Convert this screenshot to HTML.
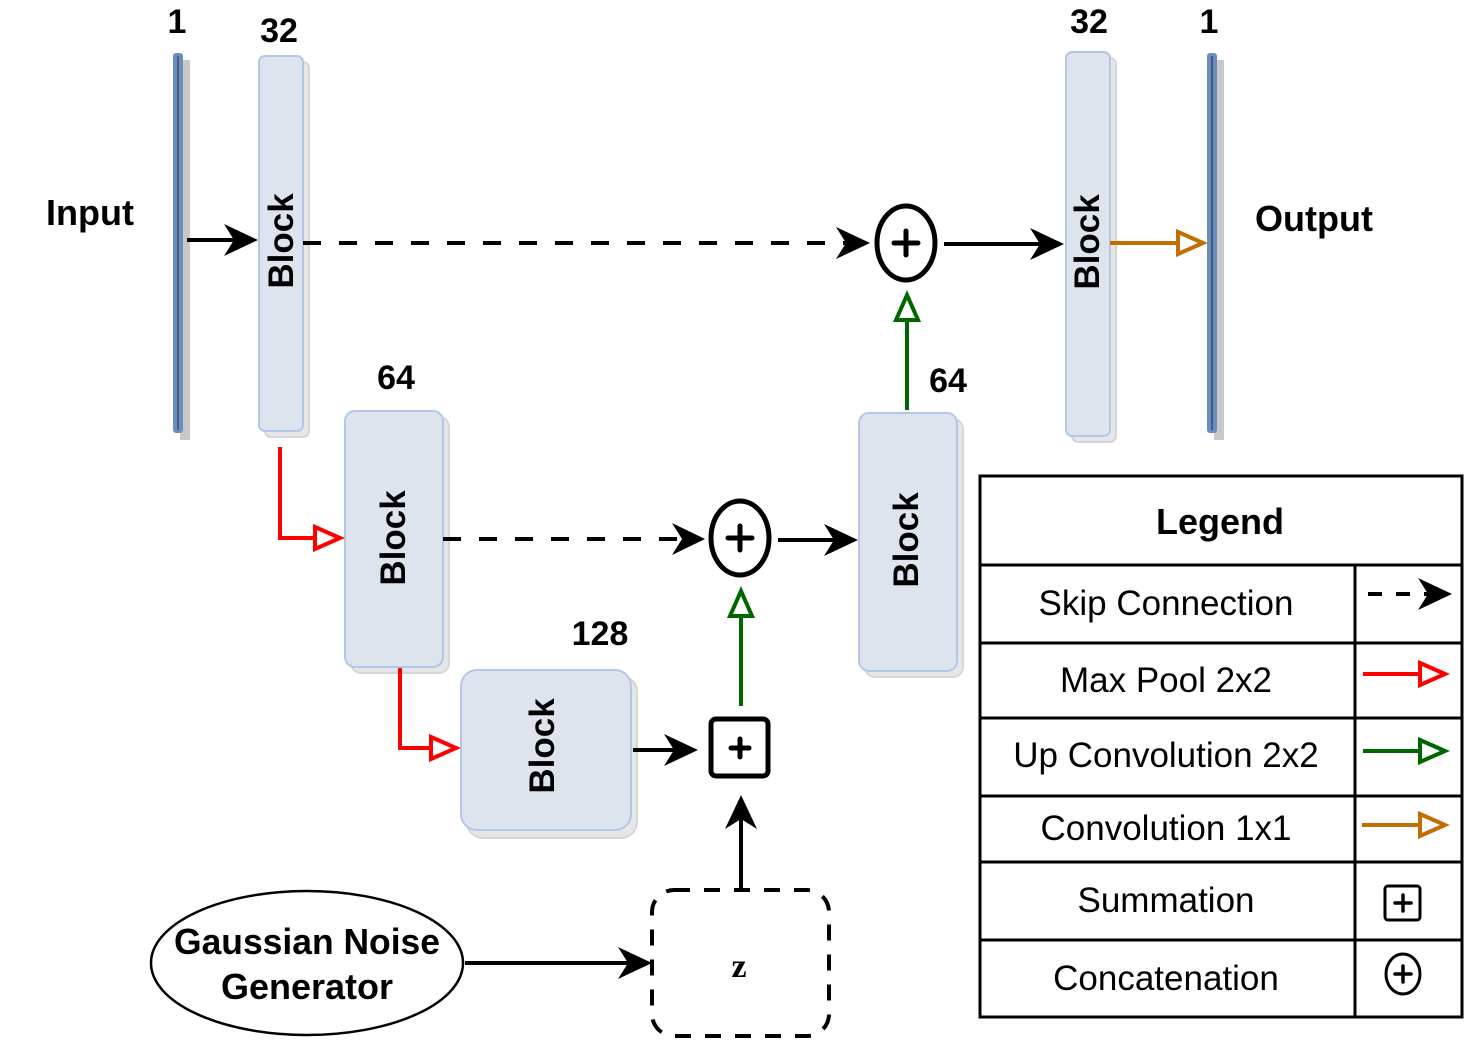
<!DOCTYPE html>
<html><head><meta charset="utf-8"><style>
html,body{margin:0;padding:0;background:#fff;}
svg{display:block;}
text{font-family:"Liberation Sans",sans-serif;}
</style></head><body>
<svg width="1482" height="1044" viewBox="0 0 1482 1044" xmlns="http://www.w3.org/2000/svg">
<!-- bars -->
<rect x="180" y="60" width="10" height="380" fill="#c8c8c8"/>
<rect x="173" y="53" width="10" height="380" rx="3" fill="#6c8ebf"/>
<line x1="178" y1="56" x2="178" y2="430" stroke="#1a2a40" stroke-width="1"/>
<rect x="1214" y="60" width="10" height="380" fill="#c8c8c8"/>
<rect x="1207" y="53" width="10" height="380" rx="3" fill="#6c8ebf"/>
<line x1="1212" y1="56" x2="1212" y2="430" stroke="#1a2a40" stroke-width="1"/>

<!-- blocks -->
<g fill="#dde4ee" stroke="#b3c8e6" stroke-width="2">
<rect x="265" y="62" width="44" height="375" rx="6" fill="#e6e6e6" stroke="#d6d6d6"/>
<rect x="259" y="56" width="44" height="375" rx="6"/>
<rect x="1072" y="58" width="44" height="384" rx="6" fill="#e6e6e6" stroke="#d6d6d6"/>
<rect x="1066" y="52" width="44" height="384" rx="6"/>
<rect x="351" y="417" width="98" height="256" rx="10" fill="#e6e6e6" stroke="#d6d6d6"/>
<rect x="345" y="411" width="98" height="256" rx="10"/>
<rect x="865" y="419" width="98" height="258" rx="10" fill="#e6e6e6" stroke="#d6d6d6"/>
<rect x="859" y="413" width="98" height="258" rx="10"/>
<rect x="467" y="676" width="170" height="162" rx="16" fill="#e6e6e6" stroke="#d6d6d6"/>
<rect x="461" y="670" width="170" height="160" rx="16"/>
</g>
<g font-weight="bold" font-size="35" fill="#000" text-anchor="middle">
<text transform="translate(293,241) rotate(-90)">Block</text>
<text transform="translate(1099,242) rotate(-90)">Block</text>
<text transform="translate(405,538) rotate(-90)">Block</text>
<text transform="translate(918,540) rotate(-90)">Block</text>
<text transform="translate(554,746) rotate(-90)">Block</text>
</g>
<g font-weight="bold" font-size="34" fill="#000" text-anchor="middle">
<text x="177" y="33">1</text>
<text x="279" y="42">32</text>
<text x="1089" y="33">32</text>
<text x="1209" y="33">1</text>
<text x="396" y="389">64</text>
<text x="948" y="392">64</text>
<text x="600" y="645">128</text>
<text x="90" y="225" font-size="36">Input</text>
<text x="1314" y="231" font-size="36">Output</text>
</g>

<!-- connectors -->
<g stroke="#000" stroke-width="4" fill="none">
<line x1="187" y1="240" x2="240" y2="240"/>
<line x1="303" y1="243" x2="850" y2="243" stroke-dasharray="18,18"/>
<line x1="944" y1="244" x2="1045" y2="244"/>
<line x1="443" y1="539" x2="688" y2="539" stroke-dasharray="18,18"/>
<line x1="778" y1="540" x2="840" y2="540"/>
<line x1="633" y1="750" x2="680" y2="750"/>
<line x1="741" y1="888" x2="741" y2="813"/>
<line x1="465" y1="963" x2="633" y2="963"/>
</g>
<g fill="#000">
<polygon points="258,240 224,224 234,240 224,256"/>
<polygon points="870,243 836,227 846,243 836,259"/>
<polygon points="1064,244 1030,228 1040,244 1030,260"/>
<polygon points="705,539 672,523 682,539 672,555"/>
<polygon points="858,540 824,524 834,540 824,556"/>
<polygon points="698,750 664,734 674,750 664,766"/>
<polygon points="741,795 725,829 741,819 757,829"/>
<polygon points="652,963 618,947 628,963 618,979"/>
</g>
<!-- red -->
<g stroke="#ff0000" stroke-width="4" fill="none">
<polyline points="280,447 280,538 315,538"/>
<polyline points="400,668 400,748 430,748"/>
<polygon points="340,538 315,527 315,549" fill="#fff"/>
<polygon points="456,748 431,737 431,759" fill="#fff"/>
</g>
<!-- green -->
<g stroke="#006600" stroke-width="4" fill="none">
<line x1="907" y1="410" x2="907" y2="320"/>
<line x1="741" y1="706" x2="741" y2="616"/>
<polygon points="907,295 896,320 918,320" fill="#fff"/>
<polygon points="741,591 730,616 752,616" fill="#fff"/>
</g>
<!-- orange -->
<g stroke="#c07000" stroke-width="4" fill="none">
<line x1="1110" y1="243" x2="1178" y2="243"/>
<polygon points="1203,243 1178,232 1178,254" fill="#fff"/>
</g>
<!-- circle plus -->
<g stroke="#000" stroke-width="5" fill="#fff">
<ellipse cx="906" cy="243" rx="29" ry="37"/>
<ellipse cx="740" cy="538" rx="29" ry="37"/>
<rect x="711" y="719" width="57" height="57" rx="5"/>
</g>
<g stroke="#000" stroke-width="5" stroke-linecap="round">
<line x1="894" y1="243" x2="918" y2="243"/><line x1="906" y1="231" x2="906" y2="255"/>
<line x1="728" y1="538" x2="752" y2="538"/><line x1="740" y1="526" x2="740" y2="550"/>
<line x1="731" y1="748" x2="749" y2="748"/><line x1="740" y1="739" x2="740" y2="757"/>
</g>

<!-- noise generator -->
<ellipse cx="307" cy="963" rx="156" ry="72" fill="#fff" stroke="#000" stroke-width="2.5"/>
<text x="307" y="954" font-size="36" font-weight="bold" text-anchor="middle" textLength="266" lengthAdjust="spacingAndGlyphs">Gaussian Noise</text>
<text x="307" y="999" font-size="36" font-weight="bold" text-anchor="middle">Generator</text>
<rect x="652" y="890" width="177" height="146" rx="22" fill="none" stroke="#000" stroke-width="4" stroke-dasharray="16,14"/>
<text x="739" y="977" font-size="34" font-weight="bold" text-anchor="middle" style="font-family:'Liberation Serif',serif">z</text>

<!-- legend -->
<g stroke="#000" stroke-width="3" fill="none">
<rect x="980" y="476" width="482" height="541"/>
<line x1="980" y1="565" x2="1462" y2="565"/>
<line x1="980" y1="643" x2="1462" y2="643"/>
<line x1="980" y1="718" x2="1462" y2="718"/>
<line x1="980" y1="796" x2="1462" y2="796"/>
<line x1="980" y1="862" x2="1462" y2="862"/>
<line x1="980" y1="940" x2="1462" y2="940"/>
<line x1="1355" y1="565" x2="1355" y2="1017"/>
</g>
<g font-size="35" text-anchor="middle" fill="#000">
<text x="1220" y="534" font-weight="bold" font-size="36">Legend</text>
<text x="1166" y="615">Skip Connection</text>
<text x="1166" y="692">Max Pool 2x2</text>
<text x="1166" y="767">Up Convolution 2x2</text>
<text x="1166" y="840">Convolution 1x1</text>
<text x="1166" y="912">Summation</text>
<text x="1166" y="990">Concatenation</text>
</g>
<g stroke-width="4" fill="none">
<line x1="1368" y1="594" x2="1432" y2="594" stroke="#000" stroke-dasharray="14,14"/>
<line x1="1363" y1="674" x2="1420" y2="674" stroke="#ff0000"/>
<polygon points="1445,674 1420,663 1420,685" stroke="#ff0000" fill="#fff"/>
<line x1="1363" y1="751" x2="1420" y2="751" stroke="#006600"/>
<polygon points="1445,751 1420,740 1420,762" stroke="#006600" fill="#fff"/>
<line x1="1362" y1="825" x2="1420" y2="825" stroke="#c07000"/>
<polygon points="1445,825 1420,814 1420,836" stroke="#c07000" fill="#fff"/>
<rect x="1385" y="886" width="35" height="34" rx="3" stroke="#000" stroke-width="3"/>
<ellipse cx="1403" cy="974" rx="17" ry="20" stroke="#000" stroke-width="3"/>
</g>
<polygon points="1452,594 1418,578 1428,594 1418,610" fill="#000"/>
<g stroke="#000" stroke-width="3.5" stroke-linecap="round">
<line x1="1395" y1="903" x2="1411" y2="903"/><line x1="1403" y1="895" x2="1403" y2="911"/>
<line x1="1395" y1="974" x2="1411" y2="974"/><line x1="1403" y1="966" x2="1403" y2="982"/>
</g>
</svg>
</body></html>
